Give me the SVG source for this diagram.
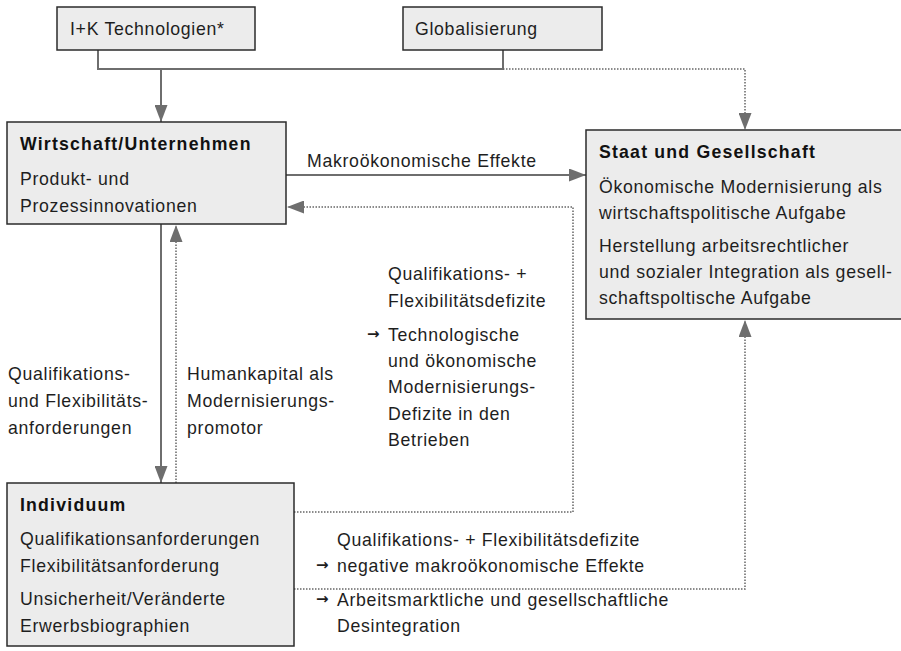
<svg xmlns="http://www.w3.org/2000/svg" width="901" height="651" viewBox="0 0 901 651">
<style>
  text { font-family: "Liberation Sans", Arial, sans-serif; font-size: 17.7px; letter-spacing: 0.7px; fill: #1e1e1e; }
  .b { font-weight: bold; letter-spacing: 1.2px; fill: #111; }
  .ar { font-family: "DejaVu Sans", sans-serif; font-size: 15px; font-weight: bold; letter-spacing: 0; }
  .box { fill: #ececec; stroke: #2b2b2b; stroke-width: 1.5; }
  .solid { fill: none; stroke: #6e6e6e; stroke-width: 2; }
  .dot { fill: none; stroke: #666; stroke-width: 1.5; stroke-dasharray: 1.5 1.5; }
</style>
<defs>
  <marker id="ah" markerUnits="userSpaceOnUse" markerWidth="17" markerHeight="13" viewBox="0 0 17 13" refX="17" refY="6.5" orient="auto">
    <path d="M0,0 L17,6.5 L0,13 z" fill="#6e6e6e" stroke="none"/>
  </marker>
</defs>
<rect width="901" height="651" fill="#ffffff"/>

<g id="connectors">
  <path class="solid" d="M98,50 V69 H503 V50"/>
  <path class="solid" d="M161,69 V122" marker-end="url(#ah)"/>
  <path class="dot" d="M503,69 H745 V130" marker-end="url(#ah)"/>
  <path class="solid" d="M286,175 H586" marker-end="url(#ah)"/>
  <path class="dot" d="M294,512 H573 V207 H287" marker-end="url(#ah)"/>
  <path class="solid" d="M161,224 V483" marker-end="url(#ah)"/>
  <path class="dot" d="M176,483 V225" marker-end="url(#ah)"/>
  <path class="dot" d="M294,589 H745 V320" marker-end="url(#ah)"/>
  <text x="307" y="167">Makroökonomische Effekte</text>
  <text x="8" y="380">Qualifikations-</text>
  <text x="8" y="407">und Flexibilitäts-</text>
  <text x="8" y="434">anforderungen</text>
  <text x="187" y="380">Humankapital als</text>
  <text x="187" y="407">Modernisierungs-</text>
  <text x="187" y="434">promotor</text>
  <text x="388" y="280">Qualifikations- +</text>
  <text x="388" y="307">Flexibilitätsdefizite</text>
  <text class="ar" x="367" y="339">→</text>
  <text x="388" y="341">Technologische</text>
  <text x="388" y="367">und ökonomische</text>
  <text x="388" y="393">Modernisierungs-</text>
  <text x="388" y="420">Defizite in den</text>
  <text x="388" y="446">Betrieben</text>
  <text x="337" y="546">Qualifikations- + Flexibilitätsdefizite</text>
  <text class="ar" x="316" y="570">→</text>
  <text x="337" y="572">negative makroökonomische Effekte</text>
  <text class="ar" x="316" y="604">→</text>
  <text x="337" y="606">Arbeitsmarktliche und gesellschaftliche</text>
  <text x="337" y="632">Desintegration</text>
</g>

<g id="node-ik">
  <rect class="box" x="57" y="7" width="198" height="43"/>
  <text x="70" y="35">I+K Technologien*</text>
</g>

<g id="node-global">
  <rect class="box" x="403" y="7" width="199" height="43"/>
  <text x="415" y="35">Globalisierung</text>
</g>

<g id="node-wirtschaft">
  <rect class="box" x="7" y="122" width="279" height="102"/>
  <text class="b" x="20" y="150">Wirtschaft/Unternehmen</text>
  <text x="20" y="185">Produkt- und</text>
  <text x="20" y="212">Prozessinnovationen</text>
</g>

<g id="node-staat">
  <rect class="box" x="586" y="130" width="320" height="189"/>
  <text class="b" x="599" y="158">Staat und Gesellschaft</text>
  <text x="599" y="193">Ökonomische Modernisierung als</text>
  <text x="599" y="219">wirtschaftspolitische Aufgabe</text>
  <text x="599" y="252">Herstellung arbeitsrechtlicher</text>
  <text x="599" y="278">und sozialer Integration als gesell-</text>
  <text x="599" y="304">schaftspoltische Aufgabe</text>
</g>

<g id="node-individuum">
  <rect class="box" x="7" y="483" width="287" height="163"/>
  <text class="b" x="20" y="511">Individuum</text>
  <text x="20" y="545">Qualifikationsanforderungen</text>
  <text x="20" y="572">Flexibilitätsanforderung</text>
  <text x="20" y="605">Unsicherheit/Veränderte</text>
  <text x="20" y="632">Erwerbsbiographien</text>
</g>
</svg>
